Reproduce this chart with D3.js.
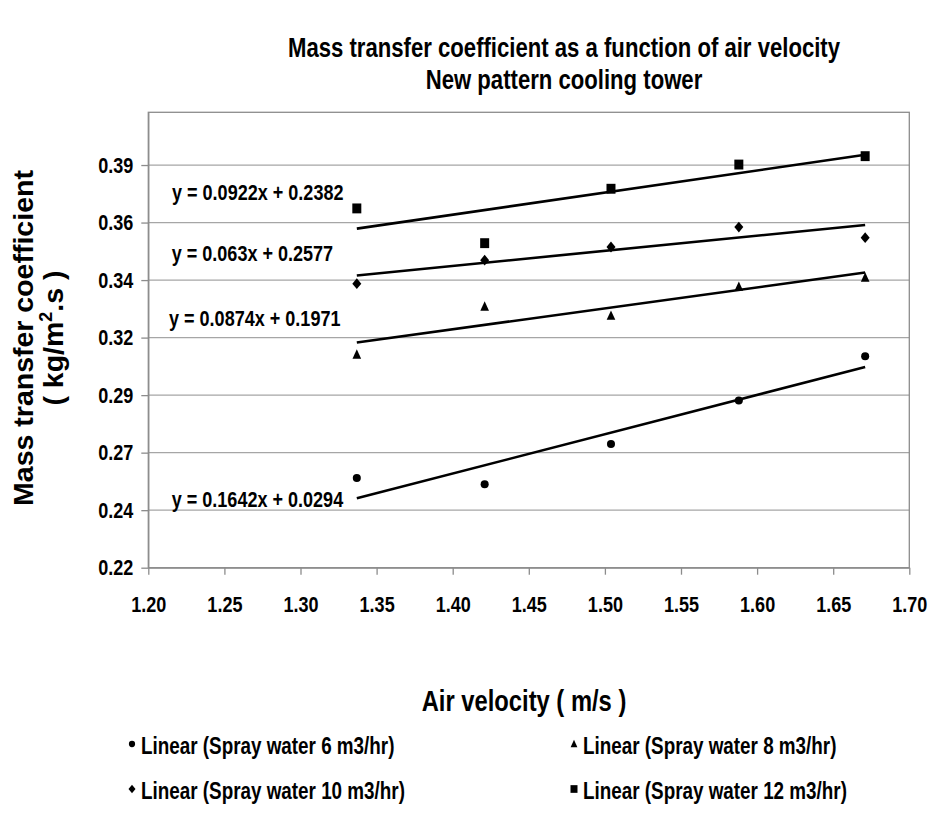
<!DOCTYPE html>
<html>
<head>
<meta charset="utf-8">
<script src="https://cdn.jsdelivr.net/npm/d3@7"></script>
<style>
  body { margin: 0; background: #fff; }
  svg { display: block; font-family: "Liberation Sans", Arial, sans-serif; font-weight: bold; }
</style>
</head>
<body>
<svg id="chart" width="932" height="818"></svg>
<script>
// data
const airVelocity = [1.337, 1.421, 1.504, 1.588, 1.671];
const spray6 = [0.2574, 0.2548, 0.2716, 0.2898, 0.3082];
const spray8 = [0.3089, 0.3289, 0.3251, 0.3372, 0.341];
const spray10 = [0.3385, 0.3483, 0.3538, 0.3621, 0.3577];
const spray12 = [0.3699, 0.3554, 0.3781, 0.3882, 0.3917];

const seriesNames = [
  "Linear (Spray water 6 m3/hr)",
  "Linear (Spray water 8 m3/hr)",
  "Linear (Spray water 10 m3/hr)",
  "Linear (Spray water 12 m3/hr)"
];
const trendSlope = [0.1642, 0.0874, 0.063, 0.0922];
const trendIntercept = [0.0294, 0.1971, 0.2577, 0.2382];
const trendLabels = [
  "y = 0.1642x + 0.0294",
  "y = 0.0874x + 0.1971",
  "y = 0.063x + 0.2577",
  "y = 0.0922x + 0.2382"
];

const xTicks = [1.2, 1.25, 1.3, 1.35, 1.4, 1.45, 1.5, 1.55, 1.6, 1.65, 1.7];
const yTicks = [0.22, 0.244, 0.268, 0.292, 0.316, 0.34, 0.364, 0.388];
const yTickLabels = ["0.22", "0.24", "0.27", "0.29", "0.32", "0.34", "0.36", "0.39"];

const allSeries = [spray6, spray8, spray10, spray12];
const shapes = ["circle", "triangle", "diamond", "square"];

const svg = d3.select("#chart");
const NARROW = 0.82; // horizontal text in the picture is condensed

const x = d3.scaleLinear().domain([1.2, 1.7]).range([148.3, 909.3]);
const y = d3.scaleLinear().domain([0.22, 0.41]).range([567.7, 112.3]);

// marker paths
function marker(shape, s) {
  if (shape === "circle") return d3.symbol(d3.symbolCircle, Math.PI * s * s * 0.2)();
  if (shape === "square") return `M${-s * 0.5},${-s * 0.55}H${s * 0.5}V${s * 0.55}H${-s * 0.5}Z`;
  if (shape === "diamond") return `M0,${-s * 0.6}L${s * 0.5},0L0,${s * 0.6}L${-s * 0.5},0Z`;
  return `M0,${-s * 0.6}L${s * 0.48},${s * 0.45}L${-s * 0.48},${s * 0.45}Z`;
}

function narrowText(g, px, py, str, size, anchor) {
  return g.append("text")
    .attr("transform", `translate(${px},${py}) scale(${NARROW},1)`)
    .attr("text-anchor", anchor || "start")
    .style("font-size", size + "px")
    .text(str);
}

// gridlines
svg.append("g")
  .selectAll("line")
  .data(yTicks.slice(1))
  .enter()
  .append("line")
  .attr("x1", x(1.2))
  .attr("x2", x(1.7))
  .attr("y1", (d) => y(d))
  .attr("y2", (d) => y(d))
  .attr("stroke", "#a6a6a6")
  .attr("stroke-width", 1.3);

// plot border
svg.append("rect")
  .attr("x", x(1.2))
  .attr("y", y(0.41))
  .attr("width", x(1.7) - x(1.2))
  .attr("height", y(0.22) - y(0.41))
  .attr("fill", "none")
  .attr("stroke", "#8c8c8c")
  .attr("stroke-width", 1.3);

// axes
const xAxis = svg.append("g")
  .attr("transform", `translate(0,${y(0.22)})`)
  .call(d3.axisBottom(x).tickValues(xTicks).tickFormat(d3.format(".2f")).tickSize(7).tickSizeOuter(0).tickPadding(22));
const yAxis = svg.append("g")
  .attr("transform", `translate(${x(1.2)},0)`)
  .call(d3.axisLeft(y).tickValues(yTicks).tickFormat((d, i) => yTickLabels[i]).tickSize(7).tickSizeOuter(0).tickPadding(8));

[xAxis, yAxis].forEach((a) => {
  a.select(".domain").attr("stroke", "#8c8c8c").attr("stroke-width", 1.3);
  a.selectAll(".tick line").attr("stroke", "#8c8c8c").attr("stroke-width", 1.3);
  a.selectAll(".tick text")
    .attr("fill", "#000")
    .style("font-size", "22px")
    .style("font-family", '"Liberation Sans", Arial, sans-serif')
    .style("font-weight", "bold")
    .attr("x", function () { return (+this.getAttribute("x") || 0) / NARROW; })
    .attr("transform", `scale(${NARROW},1)`);
});

// trend lines
const trends = svg.append("g");
allSeries.forEach((vals, i) => {
  const x0 = d3.min(airVelocity), x1 = d3.max(airVelocity);
  trends.append("line")
    .attr("x1", x(x0))
    .attr("y1", y(trendSlope[i] * x0 + trendIntercept[i]))
    .attr("x2", x(x1))
    .attr("y2", y(trendSlope[i] * x1 + trendIntercept[i]))
    .attr("stroke", "#000")
    .attr("stroke-width", 2.6);
});

// points
allSeries.forEach((vals, i) => {
  svg.append("g")
    .selectAll("path")
    .data(vals)
    .enter()
    .append("path")
    .attr("d", marker(shapes[i], 9))
    .attr("transform", (d, j) => `translate(${x(airVelocity[j])},${y(d)})`)
    .attr("fill", "#000");
});

// equation labels
const eqPos = [[171.7, 499], [169, 318.3], [171.7, 253.3], [172, 192]];
trendLabels.forEach((t, i) => {
  narrowText(svg, eqPos[i][0], eqPos[i][1] + 8, t, 22);
});

// titles
narrowText(svg, 564, 57, "Mass transfer coefficient as a function of air velocity", 27, "middle");
narrowText(svg, 564, 89, "New pattern cooling tower", 27, "middle");
narrowText(svg, 524, 711, "Air velocity ( m/s )", 29, "middle");

const yt = svg.append("text")
  .attr("transform", "translate(33,338) rotate(-90)")
  .attr("text-anchor", "middle")
  .style("font-size", "28.5px");
yt.append("tspan").attr("x", 0).attr("y", 0).text("Mass transfer coefficient");
yt.append("tspan").attr("x", 0).attr("y", 30).text("( kg/m");
yt.append("tspan").attr("dy", -11).style("font-size", "18px").text("2");
yt.append("tspan").attr("dy", 11).text(".s )");

// legend
const legendPos = [[132, 746], [574, 746], [132, 791], [574, 791]];
seriesNames.forEach((name, i) => {
  svg.append("path")
    .attr("d", marker(shapes[i], 7))
    .attr("transform", `translate(${legendPos[i][0]},${legendPos[i][1] - 2})`)
    .attr("fill", "#000");
  narrowText(svg, legendPos[i][0] + 9, legendPos[i][1] + 8, name, 23);
});
</script>
</body>
</html>
